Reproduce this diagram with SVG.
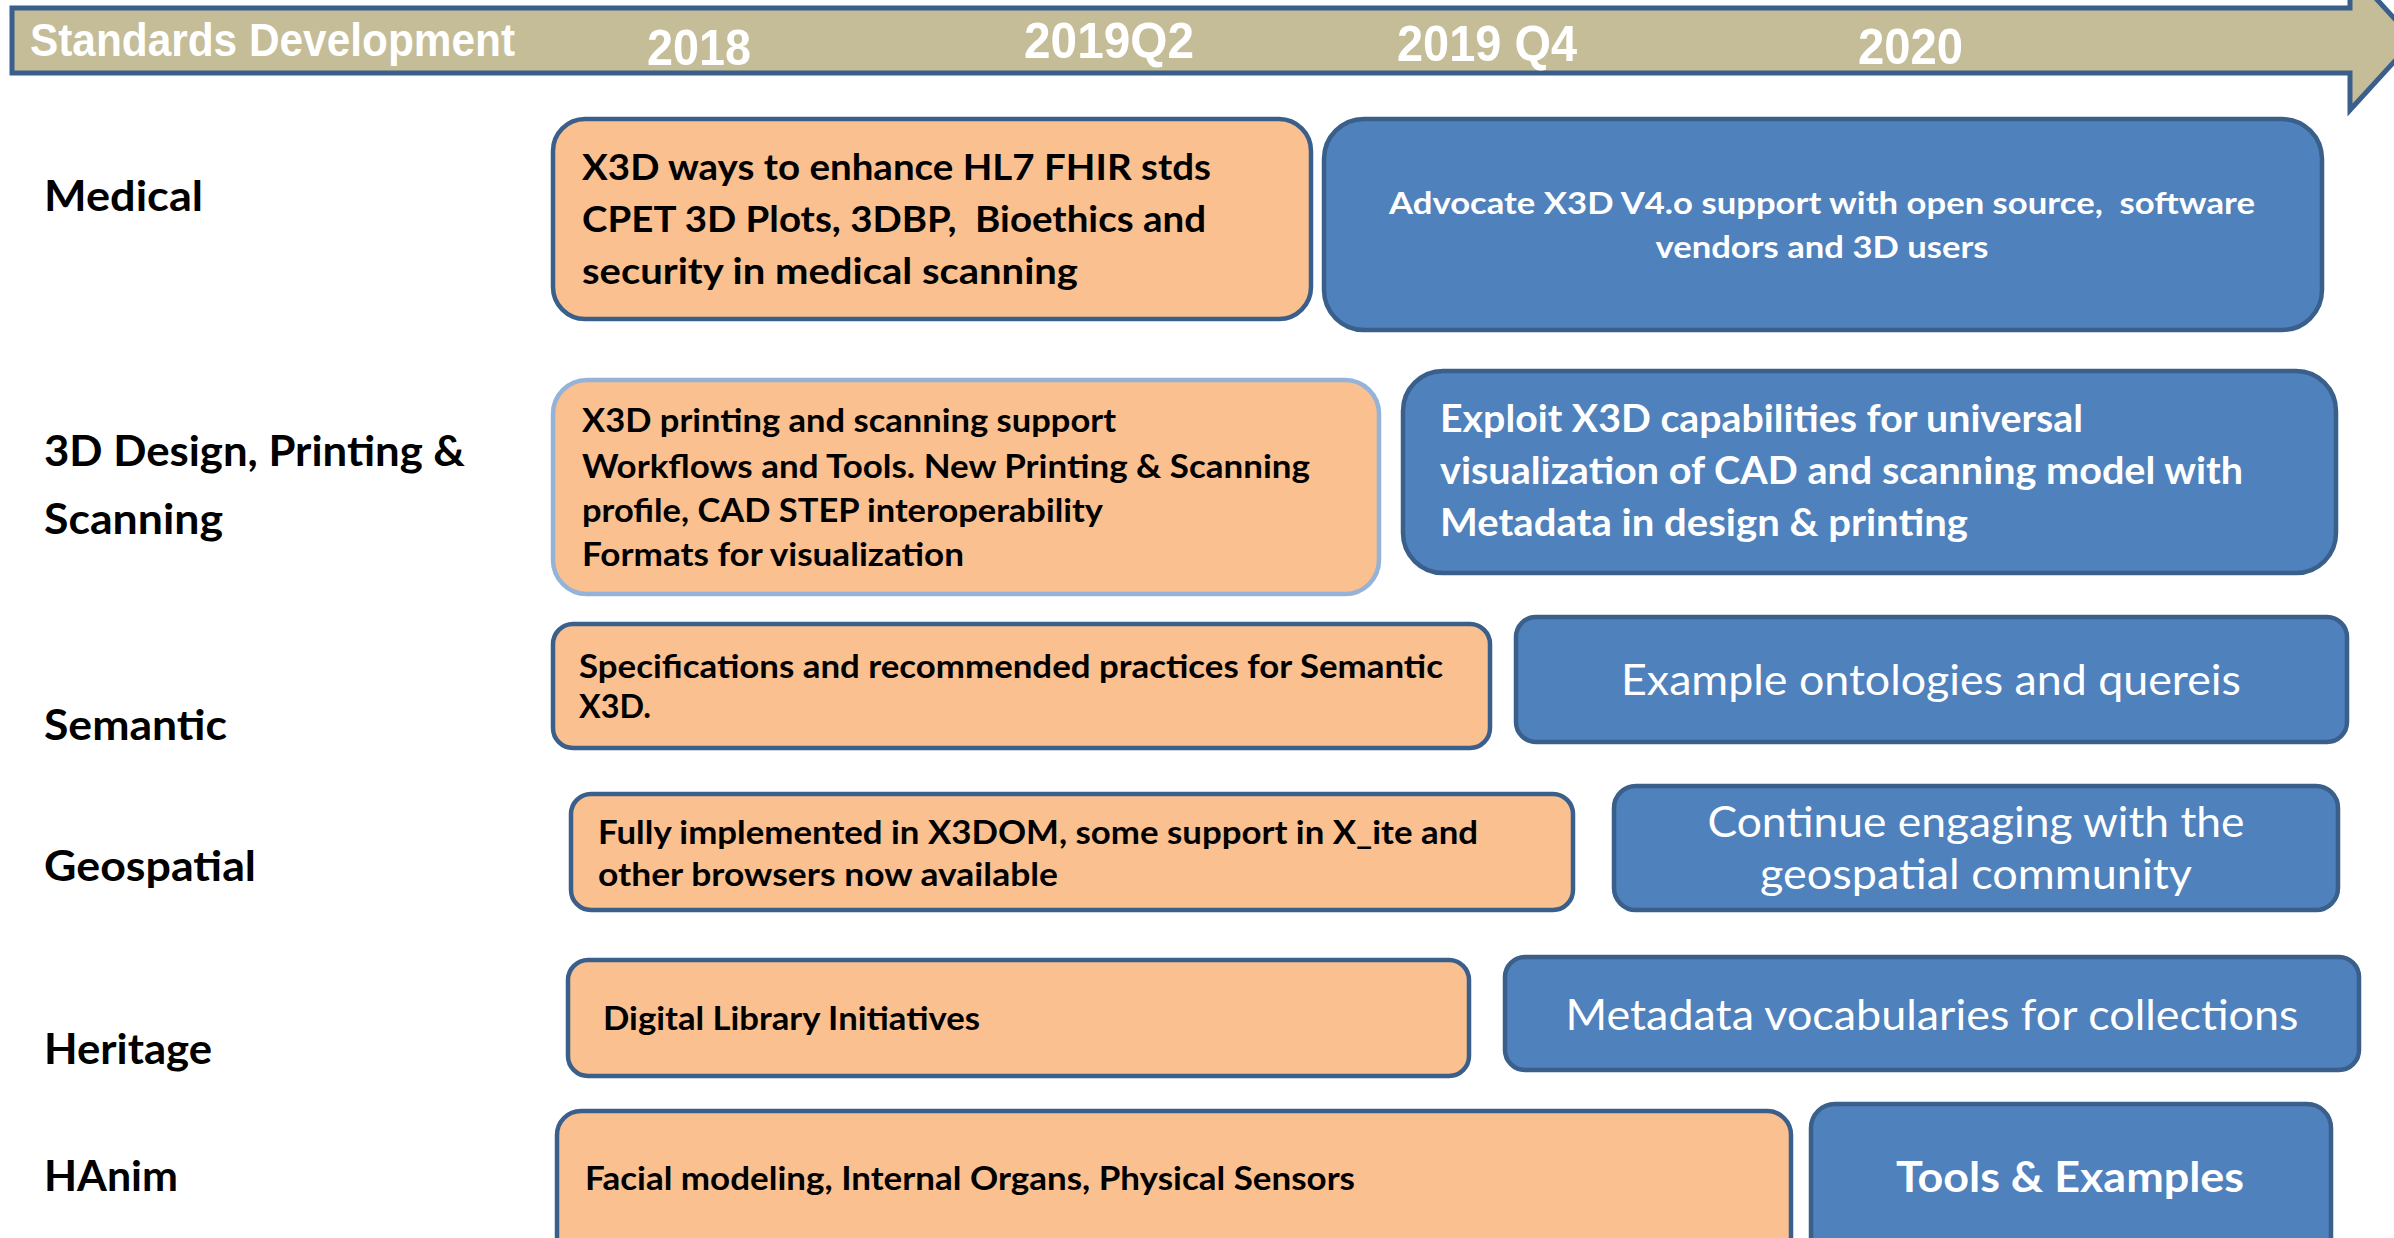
<svg xmlns="http://www.w3.org/2000/svg" width="2394" height="1238" viewBox="0 0 2394 1238">
<style>
  .hdr { font-family: "Liberation Sans", Arial, sans-serif; font-weight: bold; fill: #ffffff; }
  .lbl { font-family: Lato, "Open Sans", sans-serif; font-weight: bold; fill: #000000; font-size: 42px; }
  .ob { fill: #FAC090; stroke: #3A5F8B; stroke-width: 4.5; }
  .ob2 { fill: #FAC090; stroke: #95B3D7; stroke-width: 4.5; }
  .bb { fill: #4F81BD; stroke: #3A5F8B; stroke-width: 4.5; }
  .ot { font-family: Lato, "Open Sans", sans-serif; font-weight: bold; fill: #000000; white-space: pre; }
  .bt { font-family: Lato, "Open Sans", sans-serif; font-weight: bold; fill: #ffffff; white-space: pre; text-anchor: middle; }
  .btl { font-family: Lato, "Open Sans", sans-serif; font-weight: bold; fill: #ffffff; }
  .br { font-family: Lato, "Open Sans", sans-serif; font-weight: normal; fill: #ffffff; text-anchor: middle; }
</style>
<rect width="2394" height="1238" fill="#ffffff"/>

<g id="timeline">
  <polygon points="12,8 2350,8 2350,-30 2414,40 2350,110 2350,73 12,73" fill="#C4BD97" stroke="#3A5F8B" stroke-width="5"/>
  <text class="hdr" x="30" y="56" font-size="46" textLength="485" lengthAdjust="spacingAndGlyphs">Standards Development</text>
  <text class="hdr" x="647" y="65" font-size="50" textLength="104" lengthAdjust="spacingAndGlyphs">2018</text>
  <text class="hdr" x="1024" y="58" font-size="50" textLength="170" lengthAdjust="spacingAndGlyphs">2019Q2</text>
  <text class="hdr" x="1397" y="61" font-size="50" textLength="180" lengthAdjust="spacingAndGlyphs">2019 Q4</text>
  <text class="hdr" x="1858" y="64" font-size="50" textLength="105" lengthAdjust="spacingAndGlyphs">2020</text>
</g>

<g id="row-labels">
  <text class="lbl" x="44" y="211" textLength="159" lengthAdjust="spacingAndGlyphs">Medical</text>
  <text class="lbl" x="44" y="466" textLength="421" lengthAdjust="spacingAndGlyphs">3D Design, Printing &amp;</text>
  <text class="lbl" x="44" y="534" textLength="179" lengthAdjust="spacingAndGlyphs">Scanning</text>
  <text class="lbl" x="44" y="740" textLength="183" lengthAdjust="spacingAndGlyphs">Semantic</text>
  <text class="lbl" x="44" y="881" textLength="212" lengthAdjust="spacingAndGlyphs">Geospatial</text>
  <text class="lbl" x="44" y="1064" textLength="168" lengthAdjust="spacingAndGlyphs">Heritage</text>
  <text class="lbl" x="44" y="1191" textLength="134" lengthAdjust="spacingAndGlyphs">HAnim</text>
</g>

<g id="medical-2018">
  <rect class="ob" x="553" y="119" width="758" height="200" rx="32"/>
  <text class="ot" font-size="37" x="582" y="180" textLength="629" lengthAdjust="spacingAndGlyphs">X3D ways to enhance HL7 FHIR stds</text>
  <text class="ot" font-size="37" x="582" y="232" textLength="624" lengthAdjust="spacingAndGlyphs">CPET 3D Plots, 3DBP,  Bioethics and</text>
  <text class="ot" font-size="37" x="582" y="284" textLength="496" lengthAdjust="spacingAndGlyphs">security in medical scanning</text>
</g>
<g id="medical-2020">
  <rect class="bb" x="1324" y="119" width="998" height="211" rx="40"/>
  <text class="bt" font-size="31" x="1822" y="214" textLength="866" lengthAdjust="spacingAndGlyphs">Advocate X3D V4.o support with open source,  software</text>
  <text class="bt" font-size="31" x="1822" y="258" textLength="333" lengthAdjust="spacingAndGlyphs">vendors and 3D users</text>
</g>

<g id="design-2018">
  <rect class="ob2" x="553" y="380" width="826" height="214" rx="34"/>
  <text class="ot" font-size="33" x="582" y="432" textLength="534" lengthAdjust="spacingAndGlyphs">X3D printing and scanning support</text>
  <text class="ot" font-size="33" x="582" y="478" textLength="728" lengthAdjust="spacingAndGlyphs">Workflows and Tools. New Printing &amp; Scanning</text>
  <text class="ot" font-size="33" x="582" y="522" textLength="521" lengthAdjust="spacingAndGlyphs">profile, CAD STEP interoperability</text>
  <text class="ot" font-size="33" x="582" y="566" textLength="382" lengthAdjust="spacingAndGlyphs">Formats for visualization</text>
</g>
<g id="design-2020">
  <rect class="bb" x="1403" y="371" width="933" height="202" rx="40"/>
  <text class="btl" font-size="38" x="1440" y="432" textLength="643" lengthAdjust="spacingAndGlyphs">Exploit X3D capabilities for universal</text>
  <text class="btl" font-size="38" x="1440" y="484" textLength="803" lengthAdjust="spacingAndGlyphs">visualization of CAD and scanning model with</text>
  <text class="btl" font-size="38" x="1440" y="536" textLength="528" lengthAdjust="spacingAndGlyphs">Metadata in design &amp; printing</text>
</g>

<g id="semantic-2018">
  <rect class="ob" x="553" y="624" width="937" height="124" rx="20"/>
  <text class="ot" font-size="33" x="579" y="678" textLength="864" lengthAdjust="spacingAndGlyphs">Specifications and recommended practices for Semantic</text>
  <text class="ot" font-size="33" x="579" y="718" textLength="72" lengthAdjust="spacingAndGlyphs">X3D.</text>
</g>
<g id="semantic-2020">
  <rect class="bb" x="1516" y="617" width="831" height="125" rx="20"/>
  <text class="br" font-size="42" x="1931" y="695" textLength="620" lengthAdjust="spacingAndGlyphs">Example ontologies and quereis</text>
</g>

<g id="geospatial-2018">
  <rect class="ob" x="571" y="794" width="1002" height="116" rx="20"/>
  <text class="ot" font-size="32" x="598" y="844" textLength="880" lengthAdjust="spacingAndGlyphs">Fully implemented in X3DOM, some support in X_ite and</text>
  <text class="ot" font-size="32" x="598" y="886" textLength="460" lengthAdjust="spacingAndGlyphs">other browsers now available</text>
</g>
<g id="geospatial-2020">
  <rect class="bb" x="1614" y="786" width="724" height="124" rx="22"/>
  <text class="br" font-size="42" x="1976" y="837" textLength="537" lengthAdjust="spacingAndGlyphs">Continue engaging with the</text>
  <text class="br" font-size="42" x="1976" y="889" textLength="432" lengthAdjust="spacingAndGlyphs">geospatial community</text>
</g>

<g id="heritage-2018">
  <rect class="ob" x="568" y="960" width="901" height="116" rx="20"/>
  <text class="ot" font-size="32" x="603" y="1030" textLength="377" lengthAdjust="spacingAndGlyphs">Digital Library Initiatives</text>
</g>
<g id="heritage-2020">
  <rect class="bb" x="1505" y="957" width="854" height="113" rx="20"/>
  <text class="br" font-size="42" x="1932" y="1030" textLength="733" lengthAdjust="spacingAndGlyphs">Metadata vocabularies for collections</text>
</g>

<g id="hanim-2018">
  <rect class="ob" x="557" y="1111" width="1234" height="150" rx="24"/>
  <text class="ot" font-size="32" x="585" y="1190" textLength="770" lengthAdjust="spacingAndGlyphs">Facial modeling, Internal Organs, Physical Sensors</text>
</g>
<g id="hanim-2020">
  <rect class="bb" x="1811" y="1104" width="520" height="157" rx="24"/>
  <text class="bt" font-size="42" x="2070" y="1192" textLength="348" lengthAdjust="spacingAndGlyphs">Tools &amp; Examples</text>
</g>

<g id="connectors"></g>
</svg>
